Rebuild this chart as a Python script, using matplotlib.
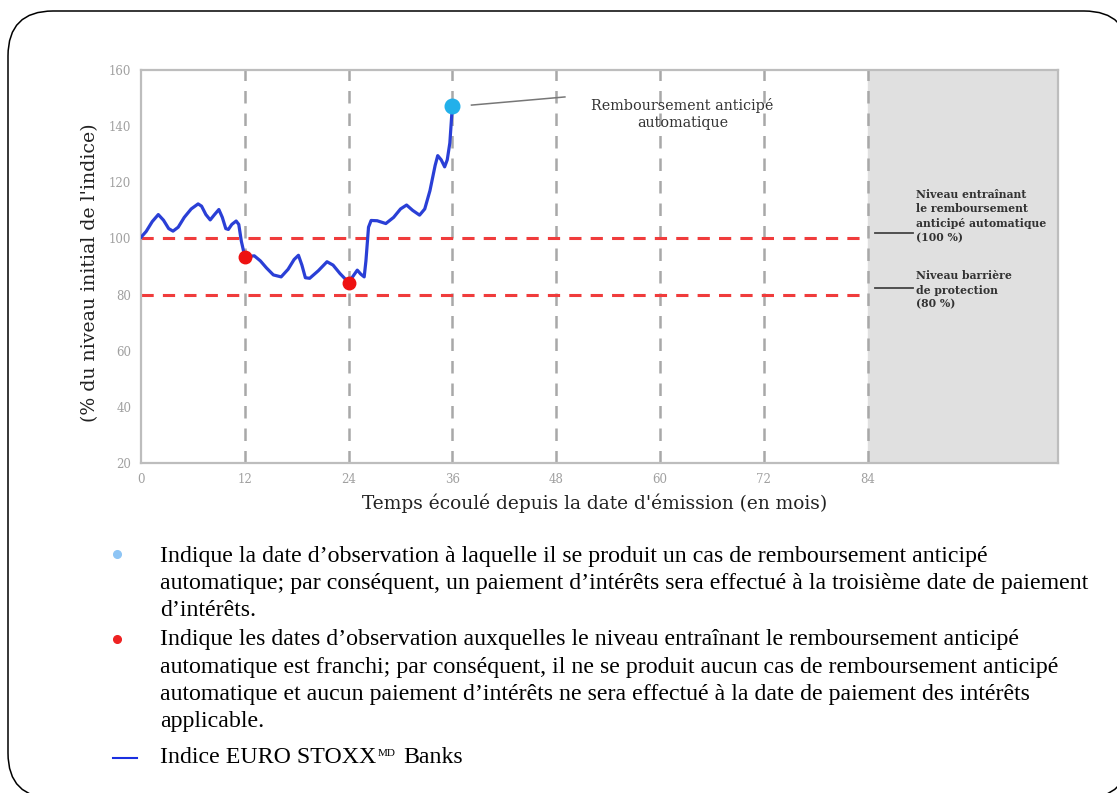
import matplotlib.pyplot as plt
from matplotlib.patches import FancyBboxPatch

# index path (% of initial level)
months = [0, 0.6, 1.3, 2.0, 2.6, 3.2, 3.7, 4.3, 5.0, 5.8, 6.6, 7.0, 7.5, 8.0, 8.5, 9.0,
          9.4, 9.8, 10.1, 10.5, 11.0, 11.3, 11.6, 12.0, 12.5, 13.1, 13.8, 14.5, 15.3, 16.2,
          17.0, 17.7, 18.2, 18.6, 19.0, 19.5, 20.5, 21.5, 22.2, 23.0, 24.0, 24.5, 25.0, 25.4,
          25.8, 26.0, 26.3, 26.6, 27.3, 28.3, 29.2, 30.0, 30.7, 31.4, 32.2, 32.8, 33.4, 34.0,
          34.3, 34.7, 35.1, 35.4, 35.7, 36.0]
level = [100.4, 102.5, 106, 108.5, 106.5, 103.5, 102.6, 104, 107.5, 110.5, 112.3, 111.5,
         108.5, 106.6, 108.5, 110.3, 107.5, 103.5, 103.2, 105, 106.2, 105, 99, 93.5, 93.6,
         93.8, 92, 89.5, 87, 86.3, 89, 92.5, 94, 90.5, 86, 85.8, 88.5, 91.7, 90.5, 87.5, 84.3,
         86.5, 88.7, 87.3, 86.3, 92, 104, 106.4, 106.3, 105.3, 107.5, 110.5, 111.9, 110,
         108.3, 110.5, 117, 126, 129.5, 128, 125.5, 128, 134, 147.5]

red_x = [12, 24]
red_y = [93.5, 84.3]
call_x = [36]
call_y = [147.3]

obs_dates = [12, 24, 36, 48, 60, 72, 84]
xticks = [0, 12, 24, 36, 48, 60, 72, 84]
yticks = [20, 40, 60, 80, 100, 120, 140, 160]
autocall_level = 100
barrier_level = 80

fig = plt.figure(figsize=(11.17, 7.93), dpi=100)
W, H = 1117, 793

# rounded frame around everything (pixel coordinates); white fill keeps agg from
# clipping the corner curves at the canvas edge
frame = FancyBboxPatch((8, -5), 1121, 787, boxstyle='round,pad=0,rounding_size=45',
                       transform=None, fc='white', ec='black', lw=1.1, zorder=-5)
fig.patches.append(frame)

ax = fig.add_axes([141 / W, 1 - 463 / H, 917 / W, 393 / H])
ax.set_xlim(0, 106)
ax.set_ylim(20, 160)
ax.axvspan(84, 106, color='#e0e0e0', zorder=0)

for m in obs_dates:
    ax.axvline(m, color='#a8a8a8', lw=1.8, ls=(0, (5, 4)), zorder=1)
for lv in [autocall_level, barrier_level]:
    ax.plot([0, 84], [lv, lv], color='#f03c3c', lw=2.2, ls=(0, (4, 3)), zorder=2)

ax.plot(months, level, color='#2a3fd6', lw=2.3, zorder=3)
ax.plot(red_x, red_y, 'o', color='#ee1111', ms=9, zorder=4)
ax.plot(call_x, call_y, 'o', color='#22b0ea', ms=10.5, zorder=4)

# annotations
ax.plot([38.2, 49.0], [147.5, 150.4], color='#777777', lw=1.1)
ax.text(62.6, 144.3, 'Remboursement anticipé\nautomatique', ha='center', va='center',
        fontsize=10.4, family='DejaVu Serif', color='#333333', linespacing=1.3)
ax.plot([84.8, 89.2], [101.8, 101.8], color='#444444', lw=1.3, clip_on=False)
ax.plot([84.8, 89.2], [82.2, 82.2], color='#444444', lw=1.3, clip_on=False)
ax.text(89.6, 117.5, 'Niveau entraînant\nle remboursement\nanticipé automatique\n(100 %)',
        ha='left', va='top', fontsize=7.8, weight='bold', family='DejaVu Serif',
        color='#333333', linespacing=1.35)
ax.text(89.6, 88.6, 'Niveau barrière\nde protection\n(80 %)', ha='left', va='top',
        fontsize=7.8, weight='bold', family='DejaVu Serif', color='#333333', linespacing=1.35)

ax.set_xticks(xticks)
ax.set_yticks(yticks)
ax.tick_params(length=0, labelsize=8.5, labelcolor='#a0a0a0', pad=7)
for lab in ax.get_xticklabels() + ax.get_yticklabels():
    lab.set_family('DejaVu Serif')
for s in ax.spines.values():
    s.set_color('#bdbdbd')
    s.set_linewidth(1.6)

ax.text(-0.056, 0.485, "(% du niveau initial de l'indice)", rotation=90, transform=ax.transAxes,
        ha='center', va='center', fontsize=13.6, family='DejaVu Serif', color='#222222')
ax.text(0.495, -0.102, "Temps écoulé depuis la date d'émission (en mois)", transform=ax.transAxes,
        ha='center', va='center', fontsize=13.4, family='DejaVu Serif', color='#222222')

# explanatory notes below the chart
notes = [
    (561.7, "Indique la date d’observation à laquelle il se produit un cas de remboursement anticipé"),
    (589.3, "automatique; par conséquent, un paiement d’intérêts sera effectué à la troisième date de paiement"),
    (616, "d’intérêts."),
    (645, "Indique les dates d’observation auxquelles le niveau entraînant le remboursement anticipé"),
    (672.7, "automatique est franchi; par conséquent, il ne se produit aucun cas de remboursement anticipé"),
    (700, "automatique et aucun paiement d’intérêts ne sera effectué à la date de paiement des intérêts"),
    (726.7, "applicable."),
]
for ypx, txt in notes:
    fig.text(160 / W, 1 - ypx / H, txt, ha='left', va='baseline', fontsize=17.2,
             family='Liberation Serif', color='black')

# legend line for the index, with small "MD" mark
renderer = fig.canvas.get_renderer()
t1 = fig.text(160 / W, 1 - 763.3 / H, 'Indice EURO STOXX', ha='left', va='baseline',
              fontsize=17.2, family='Liberation Serif', color='black')
x1 = t1.get_window_extent(renderer).x1
t2 = fig.text((x1 + 1.5) / W, 1 - 755.5 / H, 'MD', ha='left', va='baseline', fontsize=8,
              family='Liberation Serif', color='black')
x2 = t2.get_window_extent(renderer).x1
fig.text((x2 + 7) / W, 1 - 763.3 / H, 'Banks', ha='left', va='baseline', fontsize=17.2,
         family='Liberation Serif', color='black')

fig.lines.append(plt.Line2D([116.7 / W], [1 - 554 / H], marker='o', color='#8ec5f5', ms=5.5,
                            transform=fig.transFigure))
fig.lines.append(plt.Line2D([116.7 / W], [1 - 639 / H], marker='o', color='#ee2222', ms=5.5,
                            transform=fig.transFigure))
fig.lines.append(plt.Line2D([112.5 / W, 136.5 / W], [1 - 758 / H, 1 - 758 / H], color='#1a2fe0',
                            lw=1.5, transform=fig.transFigure))

fig.savefig('out.png', dpi=100)
